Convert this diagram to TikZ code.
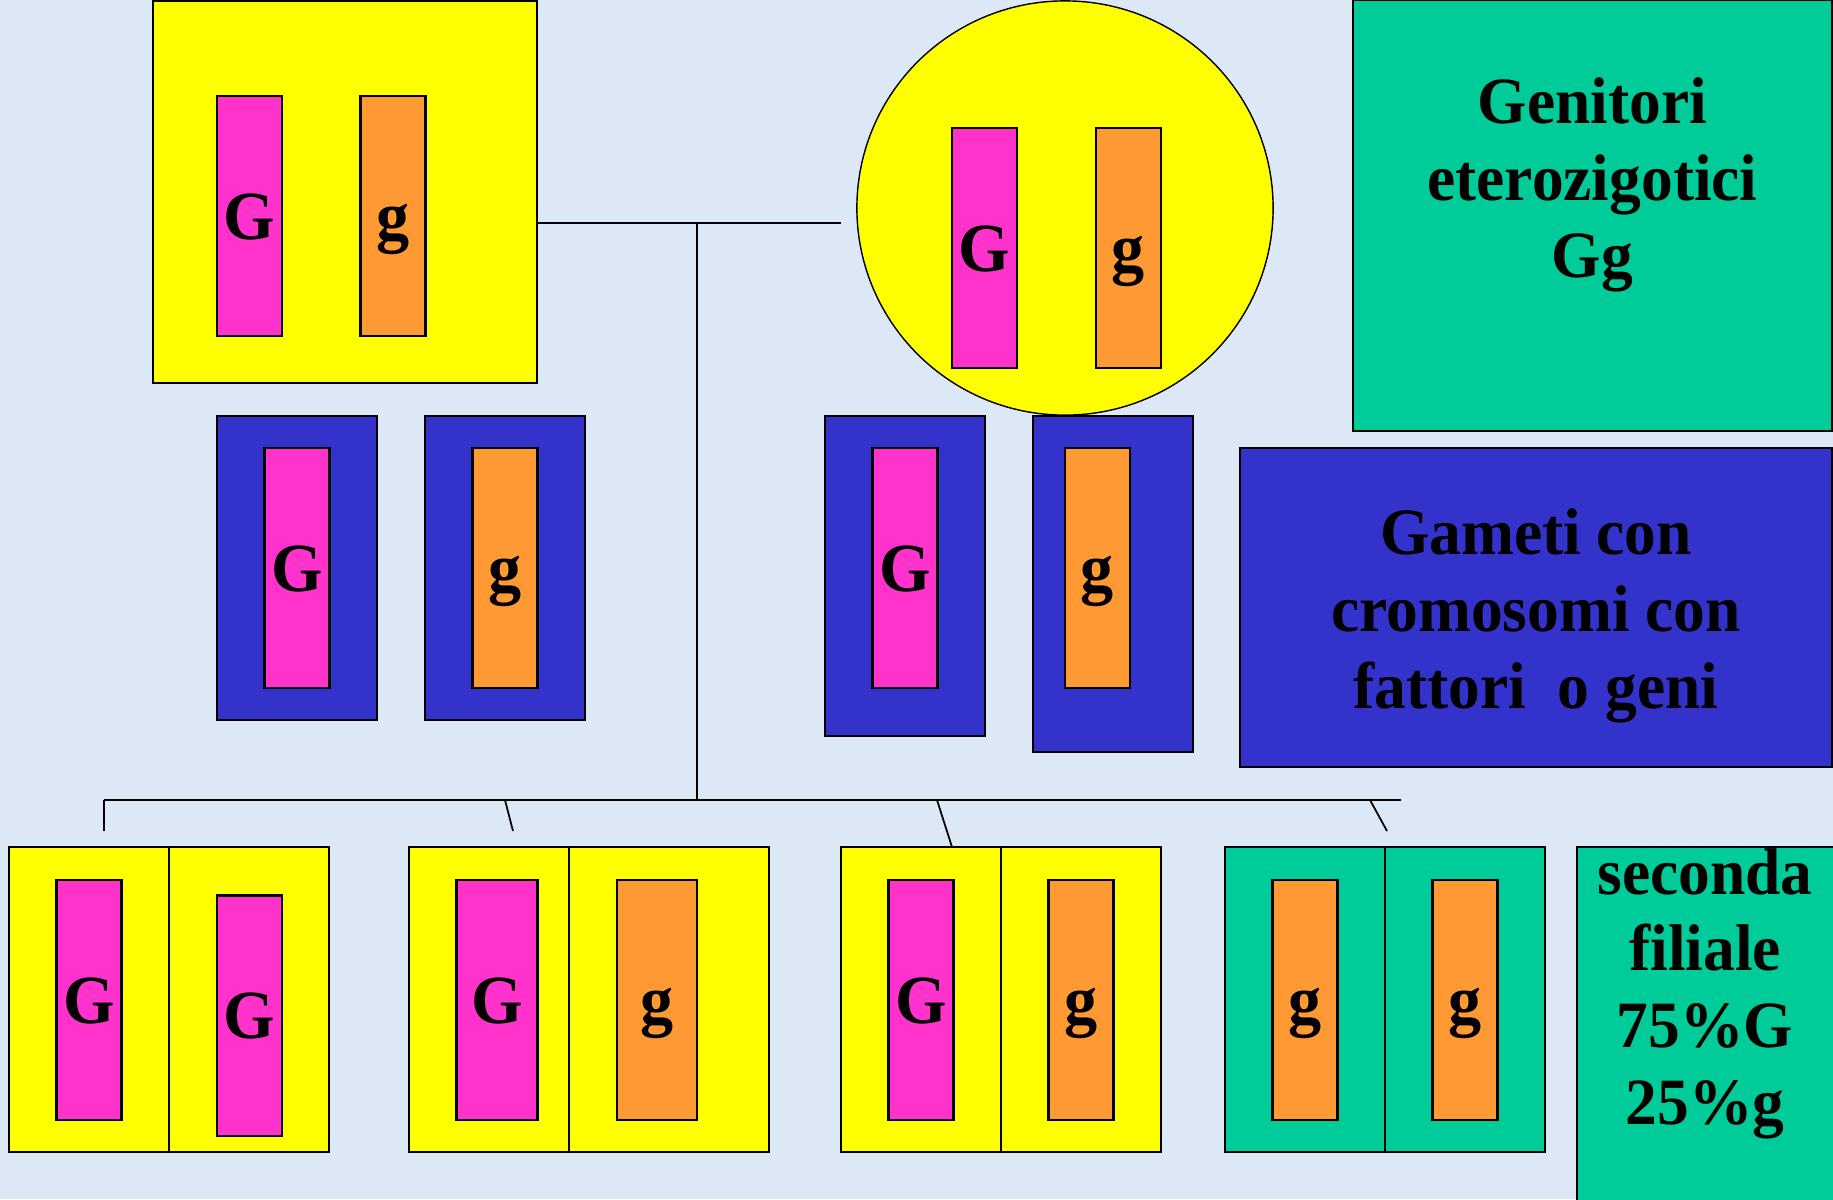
\documentclass[tikz,border=0pt]{standalone}
\usepackage{fontspec}
\setmainfont{Liberation Serif}
\newfontfamily\legendfont[FakeStretch=0.96]{Liberation Serif}
\usetikzlibrary{shapes.geometric}
\definecolor{bgblue}{RGB}{221,232,246}
\definecolor{geneyellow}{RGB}{255,255,0}
\definecolor{genepink}{RGB}{255,51,204}
\definecolor{geneorange}{RGB}{255,153,51}
\definecolor{geneblue}{RGB}{51,51,204}
\definecolor{genegreen}{RGB}{0,204,153}
\begin{document}
\begin{tikzpicture}[x=0.01cm, y=-0.01cm,
  cell/.style={draw, line width=0.6pt, inner sep=0pt},
  chromG/.style={cell, fill=genepink, minimum width=0.65cm, minimum height=2.4cm,
    font=\legendfont\fontsize{19.6}{20}\selectfont\bfseries, text height=0.46cm, text depth=0pt},
  chromg/.style={chromG, fill=geneorange},
  half/.style={cell, fill=geneyellow, minimum width=1.6cm, minimum height=3.05cm},
  gamete/.style={cell, fill=geneblue, minimum width=1.6cm},
  legend/.style={align=center, inner sep=0pt, font=\legendfont\fontsize{18.8}{21.8}\selectfont\bfseries},
  link/.style={line width=0.5pt}
]
  % Background
  \fill[bgblue] (0,0) rectangle (1833,1199);
  \useasboundingbox (0,0) rectangle (1833,1199);
  \clip (0,0) rectangle (1833,1199);

  % Parents
  \node[cell, fill=geneyellow, minimum width=3.84cm, minimum height=3.82cm] (mother) at (345,192) {};
  \node[chromG] (motherG) at (249.5,216) {G};
  \node[chromg] (motherg) at (393,216) {g};
  \node[ellipse, draw, line width=0.4pt, fill=geneyellow, inner sep=0pt,
    minimum width=4.16cm, minimum height=4.14cm] (father) at (1065,208) {};
  \node[chromG] (fatherG) at (984.5,248) {G};
  \node[chromg] (fatherg) at (1128.5,248) {g};

  % Gametes
  \node[gamete, minimum height=3.04cm] (gam1) at (297,568) {};
  \node[chromG] (gam1c) at (297,568) {G};
  \node[gamete, minimum height=3.04cm] (gam2) at (505,568) {};
  \node[chromg] (gam2c) at (505,568) {g};
  \node[gamete, minimum height=3.2cm] (gam3) at (905,576) {};
  \node[chromG] (gam3c) at (905,568) {G};
  \node[gamete, minimum height=3.36cm] (gam4) at (1113,584) {};
  \node[chromg] (gam4c) at (1097.5,568) {g};

  % Legend boxes
  \node[cell, fill=genegreen, minimum width=4.79cm, minimum height=4.31cm] (legpar) at (1592.5,215.5) {};
  \node[legend] (legpartext) at (1592.5,185) {Genitori\\eterozigotici\\Gg};
  \node[cell, fill=geneblue, minimum width=5.92cm, minimum height=3.19cm] (leggam) at (1536,607.5) {};
  \node[legend] (leggamtext) at (1536,616) {Gameti con\\cromosomi con\\fattori\ \ o geni};
  \node[cell, fill=genegreen, minimum width=2.7cm, minimum height=3.7cm] (legfil) at (1712,1032) {};
  \node[legend] (legfiltext) at (1705,993.5) {seconda\\filiale\\75\%G\\25\%g};

  % Second generation
  \node[half] (f1a) at (89,999.5) {};
  \node[half] (f1b) at (249,999.5) {};
  \node[chromG] (f1ac) at (89,1000) {G};
  \node[chromG] (f1bc) at (249.5,1015.5) {G};
  \node[half] (f2a) at (489,999.5) {};
  \node[half, minimum width=2cm] (f2b) at (669,999.5) {};
  \node[chromG, minimum width=0.81cm] (f2ac) at (497,1000) {G};
  \node[chromg, minimum width=0.8cm] (f2bc) at (657,1000) {g};
  \node[half] (f3a) at (921,999.5) {};
  \node[half] (f3b) at (1081,999.5) {};
  \node[chromG] (f3ac) at (921,1000) {G};
  \node[chromg] (f3bc) at (1081,1000) {g};
  \node[half, fill=genegreen] (f4a) at (1305,999.5) {};
  \node[half, fill=genegreen] (f4b) at (1465,999.5) {};
  \node[chromg] (f4ac) at (1305,1000) {g};
  \node[chromg] (f4bc) at (1465,1000) {g};

  % Lines
  \coordinate (mate) at (697,223);
  \coordinate (mateend) at (841,223);
  \coordinate (sibs) at (697,800);
  \coordinate (sibsL) at (104,800);
  \coordinate (sibsR) at (1401,800);
  \coordinate (drop1) at (104,831);
  \coordinate (drop2) at (513,831);
  \coordinate (drop3) at (952,847);
  \coordinate (drop4) at (1387,831);
  \draw[link] (mother.east |- mate) -- (mateend);
  \draw[link] (mate) -- (sibs);
  \draw[link] (sibsL) -- (sibsR);
  \draw[link] (sibsL) -- (drop1);
  \draw[link] (505,800) -- (drop2);
  \draw[link] (937,800) -- (drop3);
  \draw[link] (1370,800) -- (drop4);

\end{tikzpicture}
\end{document}
